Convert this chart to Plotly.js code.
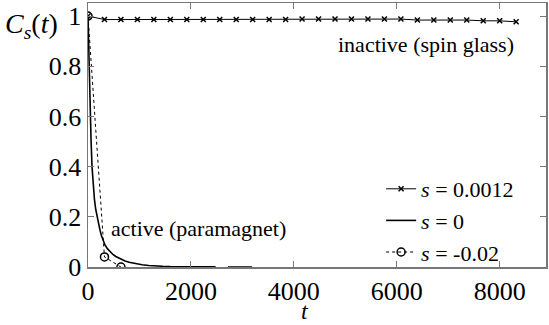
<!DOCTYPE html>
<html>
<head>
<meta charset="utf-8">
<script src="https://cdn.plot.ly/plotly-3.0.1.min.js"></script>
<style>
html,body{margin:0;padding:0;background:#fff;}
#chart{width:549px;height:325px;}
</style>
</head>
<body>
<div id="chart"></div>
<script>
// s = 0.0012 (inactive, spin glass)
const tGlass = [0,320,640,960,1280,1600,1920,2240,2560,2880,3200,3520,3840,4160,4480,4800,5120,5440,5760,6080,6400,6720,7040,7360,7680,8000,8320];
const cGlass = [1,0.986,0.986,0.986,0.986,0.986,0.986,0.986,0.986,0.986,0.986,0.986,0.986,0.988,0.988,0.988,0.988,0.988,0.988,0.988,0.984,0.984,0.984,0.984,0.981,0.981,0.977];
// s = 0 (solid curve)
const tZero = [0,10,20,35,47,60,78,100,125,150,175,200,230,260,291,330,380,430,485,540,600,660,720,800,870,960,1050,1180,1300,1450,1600,1800,2000,2250,2480,2600,2720,2900,3050,3190];
const cZero = [1,0.9,0.8,0.68,0.6,0.5,0.4,0.33,0.27,0.23,0.2,0.175,0.15,0.125,0.105,0.088,0.072,0.06,0.05,0.042,0.035,0.029,0.024,0.019,0.016,0.012,0.009,0.006,0.004,0.003,0.002,0.001,0.0008,0.0005,0.0003,null,0.0002,0.0002,0.0001,0.0001];
// s = -0.02 (active, paramagnet)
const tPara = [0,320,640];
const cPara = [1,0.04,0.0];

const legendNames = ['<i>s</i> = 0.0012', '<i>s</i> = 0', '<i>s</i> = -0.02'];
const xTicks = [0,2000,4000,6000,8000];
const yTicks = [0,0.2,0.4,0.6,0.8,1];
const yTickText = ['0','0.2','0.4','0.6','0.8','1'];

const serif = "Liberation Serif, Times New Roman, serif";

const traces = [
  {x: tGlass, y: cGlass, name: legendNames[0], mode: 'lines+markers',
   line: {color: '#000', width: 1}, marker: {symbol: 'x-thin', size: 5, color: '#000', line: {width: 1.5, color: '#000'}}},
  {x: tZero, y: cZero, name: legendNames[1], mode: 'lines', connectgaps: false,
   line: {color: '#000', width: 1.6}},
  {x: tPara, y: cPara, name: legendNames[2], mode: 'lines+markers',
   line: {color: '#000', width: 1, dash: 'dot'},
   marker: {symbol: 'circle-open', size: 8, color: '#000', line: {width: 1.5, color: '#000'}}}
];

const layout = {
  width: 549, height: 325,
  margin: {l: 88, r: 3, t: 3, b: 58},
  paper_bgcolor: '#fff', plot_bgcolor: '#fff',
  font: {family: serif, size: 22, color: '#000'},
  showlegend: true,
  legend: {x: 0.64, y: 0.375, xanchor: 'left', yanchor: 'top', bgcolor: 'rgba(0,0,0,0)',
           font: {family: serif, size: 22, color: '#000'}, itemwidth: 30, tracegroupgap: 0},
  xaxis: {range: [0, 8900], tickvals: xTicks, ticktext: xTicks.map(String),
          ticks: 'inside', ticklen: 6, tickcolor: '#777', showline: true, linecolor: '#777', linewidth: 1.5,
          mirror: 'ticks', showgrid: false, zeroline: false,
          tickfont: {family: serif, size: 26, color: '#000'}},
  yaxis: {range: [0, 1.052], tickvals: yTicks, ticktext: yTickText,
          ticks: 'inside', ticklen: 6, tickcolor: '#777', showline: true, linecolor: '#777', linewidth: 1.5,
          mirror: 'ticks', showgrid: false, zeroline: false,
          tickfont: {family: serif, size: 26, color: '#000'}},
  annotations: [
    {xref: 'paper', yref: 'paper', x: -0.185, y: 0.99, xanchor: 'left', yanchor: 'top', showarrow: false,
     text: '<i>C</i><sub><i>s</i></sub>(<i>t</i>)', font: {family: serif, size: 28, color: '#000'}},
    {xref: 'paper', yref: 'paper', x: 0.473, y: -0.165, xanchor: 'center', yanchor: 'middle', showarrow: false,
     text: '<i>t</i>', font: {family: serif, size: 24, color: '#000'}},
    {xref: 'x', yref: 'y', x: 6560, y: 0.885, showarrow: false, text: 'inactive (spin glass)',
     font: {family: serif, size: 22, color: '#000'}},
    {xref: 'x', yref: 'y', x: 2150, y: 0.155, showarrow: false, text: 'active (paramagnet)',
     font: {family: serif, size: 22, color: '#000'}}
  ]
};

Plotly.newPlot('chart', traces, layout, {displayModeBar: false, staticPlot: true});
</script>
</body>
</html>
